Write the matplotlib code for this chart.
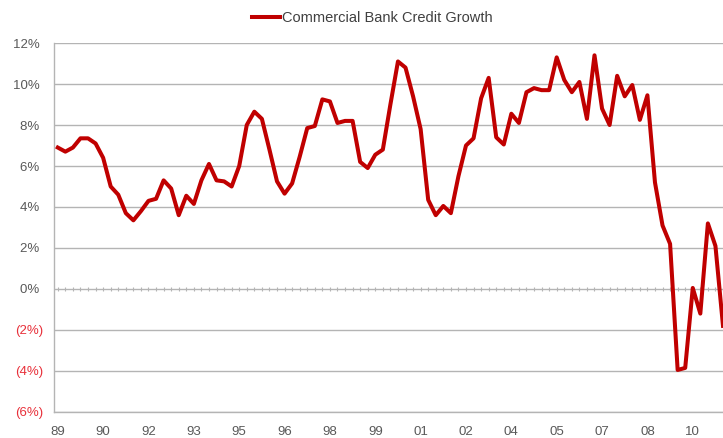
import numpy as np
import matplotlib.pyplot as plt

# quarterly growth, 1989Q1 onwards (percent)
credit_growth = [
    6.9, 6.7, 6.9, 7.35, 7.35, 7.1, 6.4, 5.0, 4.6, 3.7,
    3.35, 3.8, 4.3, 4.4, 5.3, 4.9, 3.6, 4.55, 4.15, 5.3,
    6.1, 5.3, 5.25, 5.0, 6.0, 8.0, 8.65, 8.3, 6.8, 5.25,
    4.65, 5.15, 6.45, 7.85, 7.95, 9.25, 9.15, 8.1, 8.2, 8.2,
    6.2, 5.9, 6.55, 6.8, 9.0, 11.1, 10.8, 9.4, 7.8, 4.35,
    3.6, 4.05, 3.7, 5.5, 7.0, 7.35, 9.3, 10.3, 7.4, 7.05,
    8.55, 8.1, 9.6, 9.8, 9.7, 9.7, 11.3, 10.2, 9.6, 10.1,
    8.3, 11.4, 8.8, 8.0, 10.4, 9.4, 9.95, 8.25, 9.45, 5.2,
    3.1, 2.2, -3.95, -3.85, 0.05, -1.2, 3.2, 2.1, -1.8,
]
x_labels = ["89", "90", "92", "93", "95", "96", "98", "99",
            "01", "02", "04", "05", "07", "08", "10"]
label_every = 6  # one label per six quarters
y_ticks = [-6, -4, -2, 0, 2, 4, 6, 8, 10, 12]

RED = "#C00000"
GRID = "#B4B4B4"
TEXT = "#595959"

plt.rcParams["font.family"] = ["Liberation Sans", "DejaVu Sans"]

quarters = np.arange(len(credit_growth))

fig = plt.figure(figsize=(7.23, 4.38), dpi=100)
ax = fig.add_axes([0.0747, 0.0594, 0.9253, 0.8424])

ax.plot(quarters, credit_growth, color=RED, lw=2.9, solid_joinstyle="round",
        label="Commercial Bank Credit Growth", zorder=3)

ax.set_xlim(-0.5, 88.0)
ax.set_ylim(-6, 12)

# horizontal grid lines at every tick
ax.set_yticks(y_ticks)
for v in y_ticks:
    ax.axhline(v, color=GRID, lw=1.0, zorder=1)

# category tick marks along the zero line
zero_axis = ax.secondary_xaxis(6 / 18)
zero_axis.set_xticks(quarters)
zero_axis.tick_params(axis="x", length=3, width=0.8, color=GRID,
                      direction="inout", labelbottom=False)
zero_axis.spines["bottom"].set_visible(False)

ticklabels = []
for v in y_ticks:
    if v < 0:
        ticklabels.append(f"({-v}%)")
    else:
        ticklabels.append(f"{v}% ")
ax.set_yticklabels(ticklabels)
for lbl, v in zip(ax.get_yticklabels(), y_ticks):
    lbl.set_color("#E8303A" if v < 0 else TEXT)
ax.tick_params(axis="y", length=0, pad=8, labelsize=9.5)

ax.set_xticks(quarters[::label_every][:len(x_labels)])
ax.set_xticklabels(x_labels)
ax.tick_params(axis="x", length=0, pad=10, labelsize=9.5, labelcolor=TEXT)

for side in ("top", "right"):
    ax.spines[side].set_visible(False)
ax.spines["left"].set_color(GRID)
ax.spines["bottom"].set_color(GRID)
ax.spines["left"].set_linewidth(1.0)
ax.spines["bottom"].set_linewidth(1.0)

fig.legend(loc="upper center", bbox_to_anchor=(0.515, 1.005), frameon=False,
           fontsize=10.5, handlelength=1.9, handletextpad=0.1,
           labelcolor="#404040")

fig.savefig("out.png", dpi=100)
